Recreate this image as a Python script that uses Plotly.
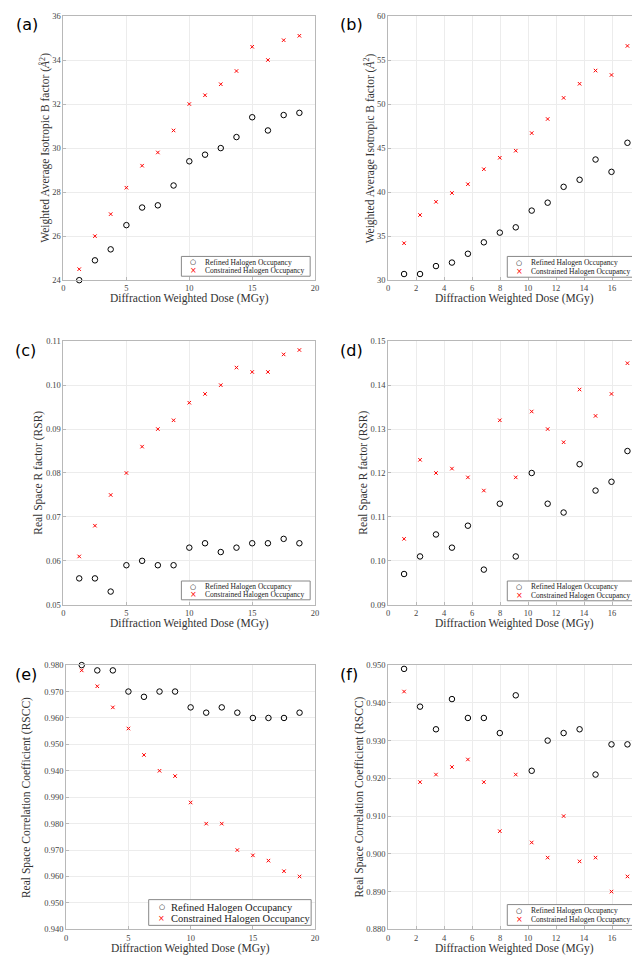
import plotly.graph_objects as go

# dose values (MGy) for the two crystals
dose_left = [1.25, 2.5, 3.75, 5.0, 6.25, 7.5, 8.75, 10.0, 11.25, 12.5, 13.75, 15.0, 16.25, 17.5, 18.75]
dose_right = [1.14, 2.28, 3.42, 4.56, 5.7, 6.84, 7.98, 9.12, 10.26, 11.4, 12.54, 13.68, 14.82, 15.96, 17.1]

# (a) B factor
a_refined = [24.0, 24.9, 25.4, 26.5, 27.3, 27.4, 28.3, 29.4, 29.7, 30.0, 30.5, 31.4, 30.8, 31.5, 31.6]
a_constrained = [24.5, 26.0, 27.0, 28.2, 29.2, 29.8, 30.8, 32.0, 32.4, 32.9, 33.5, 34.6, 34.0, 34.9, 35.1]
# (b) B factor
b_refined = [30.7, 30.7, 31.6, 32.0, 33.0, 34.3, 35.4, 36.0, 37.9, 38.8, 40.6, 41.4, 43.7, 42.3, 45.6]
b_constrained = [34.2, 37.4, 38.9, 39.9, 40.9, 42.6, 43.9, 44.7, 46.7, 48.3, 50.7, 52.3, 53.8, 53.3, 56.6]
# (c) RSR
c_refined = [0.056, 0.056, 0.053, 0.059, 0.060, 0.059, 0.059, 0.063, 0.064, 0.062, 0.063, 0.064, 0.064, 0.065, 0.064]
c_constrained = [0.061, 0.068, 0.075, 0.080, 0.086, 0.090, 0.092, 0.096, 0.098, 0.100, 0.104, 0.103, 0.103, 0.107, 0.108]
# (d) RSR
d_refined = [0.097, 0.101, 0.106, 0.103, 0.108, 0.098, 0.113, 0.101, 0.120, 0.113, 0.111, 0.122, 0.116, 0.118, 0.125]
d_constrained = [0.105, 0.123, 0.120, 0.121, 0.119, 0.116, 0.132, 0.119, 0.134, 0.130, 0.127, 0.139, 0.133, 0.138, 0.145]
# (e) RSCC
e_refined = [0.980, 0.978, 0.978, 0.970, 0.968, 0.970, 0.970, 0.964, 0.962, 0.964, 0.962, 0.960, 0.960, 0.960, 0.962]
e_constrained = [0.978, 0.972, 0.964, 0.956, 0.946, 0.940, 0.938, 0.928, 0.920, 0.920, 0.910, 0.908, 0.906, 0.902, 0.900]
# (f) RSCC
f_refined = [0.949, 0.939, 0.933, 0.941, 0.936, 0.936, 0.932, 0.942, 0.922, 0.930, 0.932, 0.933, 0.921, 0.929, 0.929]
f_constrained = [0.943, 0.919, 0.921, 0.923, 0.925, 0.919, 0.906, 0.921, 0.903, 0.899, 0.910, 0.898, 0.899, 0.890, 0.894]

# tick labels as printed on the original (e) axis
e_tickvals = [0.98, 0.97, 0.96, 0.95, 0.94, 0.93, 0.92, 0.91, 0.90, 0.89, 0.88]
e_ticktext = ["0.980", "0.970", "0.960", "0.950", "0.940", "0.990", "0.980", "0.970", "0.960", "0.950", "0.940"]

series_names = ["Refined Halogen Occupancy", "Constrained Halogen Occupancy"]

W, H = 640, 957
SERIF = "Liberation Serif"
AXCOL = "#b8b8b8"

fig = go.Figure()

def px_x(v):
    return v / W

def px_y(v):
    return 1 - v / H

# panel layout in pixels: box = left, right, top, bottom ; leg = legend box, same order
panels = [
    dict(tag="(a)", tagx=4, x=dose_left, r=a_refined, c=a_constrained, box=(54, 308, 3, 270),
         xr=[0, 20], xd=5, yr=[24, 36], yd=2, yfmt=".0f",
         ytitle="Weighted Average Isotropic B factor (<i>Å</i><sup>2</sup>)", ytx=35,
         leg=(173, 303, 246, 266), lfont=7.5),
    dict(tag="(b)", tagx=331, x=dose_right, r=b_refined, c=b_constrained, box=(381.7, 636, 3, 270),
         xr=[0, 18], xd=2, yr=[30, 60], yd=5, yfmt=".0f",
         ytitle="Weighted Average Isotropic B factor (<i>Å</i><sup>2</sup>)", ytx=362.7,
         leg=(502, 632, 246, 267), lfont=7.5),
    dict(tag="(c)", tagx=3, x=dose_left, r=c_refined, c=c_constrained, box=(54, 308, 331.7, 598),
         xr=[0, 20], xd=5, yr=[0.05, 0.11], yd=0.01, yfmt=".2f",
         ytitle="Real Space R factor (RSR)", ytx=29,
         leg=(173, 303, 574, 593), lfont=7.5),
    dict(tag="(d)", tagx=331, x=dose_right, r=d_refined, c=d_constrained, box=(381.7, 636, 331.7, 598),
         xr=[0, 18], xd=2, yr=[0.09, 0.15], yd=0.01, yfmt=".2f",
         ytitle="Real Space R factor (RSR)", ytx=357,
         leg=(502, 632, 574, 594), lfont=7.5),
    dict(tag="(e)", tagx=3, x=dose_left, r=e_refined, c=e_constrained, box=(56.7, 308, 659, 926),
         xr=[0, 20], xd=5, yr=[0.88, 0.98], yd=0.01, yfmt=".3f",
         ytitle="Real Space Correlation Coefficient (RSCC)", ytx=16,
         leg=(140, 304, 896, 922), lfont=10.5),
    dict(tag="(f)", tagx=331, x=dose_right, r=f_refined, c=f_constrained, box=(381.7, 636, 659, 926),
         xr=[0, 18], xd=2, yr=[0.88, 0.95], yd=0.01, yfmt=".3f",
         ytitle="Real Space Correlation Coefficient (RSCC)", ytx=352.7,
         leg=(502, 632, 901, 922), lfont=7.5),
]

for i, p in enumerate(panels):
    n = "" if i == 0 else str(i + 1)
    x0, x1, y0, y1 = p["box"]
    fig.add_trace(go.Scatter(
        x=p["x"], y=p["r"], mode="markers", name=series_names[0],
        xaxis="x" + n, yaxis="y" + n, showlegend=False, cliponaxis=False,
        marker=dict(symbol="circle-open", size=5.5, color="black", line=dict(width=1, color="black")),
    ))
    fig.add_trace(go.Scatter(
        x=p["x"], y=p["c"], mode="markers", name=series_names[1],
        xaxis="x" + n, yaxis="y" + n, showlegend=False, cliponaxis=False,
        marker=dict(symbol="x-thin", size=3.5, color="red", line=dict(width=1, color="red")),
    ))

    common = dict(showgrid=True, gridcolor="#ececec", gridwidth=1, zeroline=False,
                  showline=True, linecolor=AXCOL, linewidth=1, mirror=True,
                  ticks="inside", ticklen=3, tickcolor=AXCOL,
                  tickfont=dict(family=SERIF, size=8.5, color="#444"))
    fig.layout["xaxis" + n] = dict(
        domain=[px_x(x0), px_x(x1)], range=p["xr"], dtick=p["xd"], tick0=0,
        anchor="y" + n, **common)
    yax = dict(domain=[px_y(y1), px_y(y0)], range=p["yr"], dtick=p["yd"], tick0=p["yr"][0],
               tickformat=p["yfmt"], anchor="x" + n, **common)
    if p["tag"] == "(e)":
        yax.update(tickmode="array", tickvals=e_tickvals, ticktext=e_ticktext)
    fig.layout["yaxis" + n] = yax

    # small MATLAB-style legend box (plotly legend rows are too tall for this)
    lx0, lx1, ly0, ly1 = p["leg"]
    fig.add_shape(type="rect", xref="paper", yref="paper",
                  x0=px_x(lx0), x1=px_x(lx1), y0=px_y(ly1), y1=px_y(ly0),
                  line=dict(color="#888", width=1), fillcolor="white", layer="above")
    lh = ly1 - ly0
    sym_dx = 12 if p["lfont"] < 9 else 13
    txt_dx = 22 if p["lfont"] < 9 else 21
    for k, (glyph, col) in enumerate([("○", "black"), ("×", "red")]):
        row_y = ly0 + lh * (0.3 if k == 0 else 0.72)
        fig.add_annotation(text=glyph, xref="paper", yref="paper", x=px_x(lx0 + sym_dx), y=px_y(row_y),
                           xanchor="center", yanchor="middle", showarrow=False,
                           font=dict(family="DejaVu Sans", size=7 if k == 0 else 8, color=col))
        fig.add_annotation(text=series_names[k], xref="paper", yref="paper", x=px_x(lx0 + txt_dx),
                           y=px_y(row_y), xanchor="left", yanchor="middle", showarrow=False,
                           font=dict(family=SERIF, size=p["lfont"], color="#222"))

    fig.add_annotation(text=p["tag"], xref="paper", yref="paper", x=px_x(p["tagx"]), y=px_y(y0 + 9),
                       xanchor="left", yanchor="middle", showarrow=False,
                       font=dict(family="DejaVu Sans", size=16, color="black"))
    fig.add_annotation(text=p["ytitle"], xref="paper", yref="paper", x=px_x(p["ytx"]),
                       y=px_y((y0 + y1) / 2), textangle=-90, xanchor="center", yanchor="middle",
                       showarrow=False, font=dict(family=SERIF, size=11.5, color="#333"))
    fig.add_annotation(text="Diffraction Weighted Dose (MGy)", xref="paper", yref="paper",
                       x=px_x((x0 + x1) / 2), y=px_y(y1 + 19), xanchor="center", yanchor="middle",
                       showarrow=False, font=dict(family=SERIF, size=11.5, color="#333"))

fig.update_layout(width=W, height=H, margin=dict(l=0, r=0, t=0, b=0),
                  plot_bgcolor="white", paper_bgcolor="white", showlegend=False)

fig.write_html("out.html")
